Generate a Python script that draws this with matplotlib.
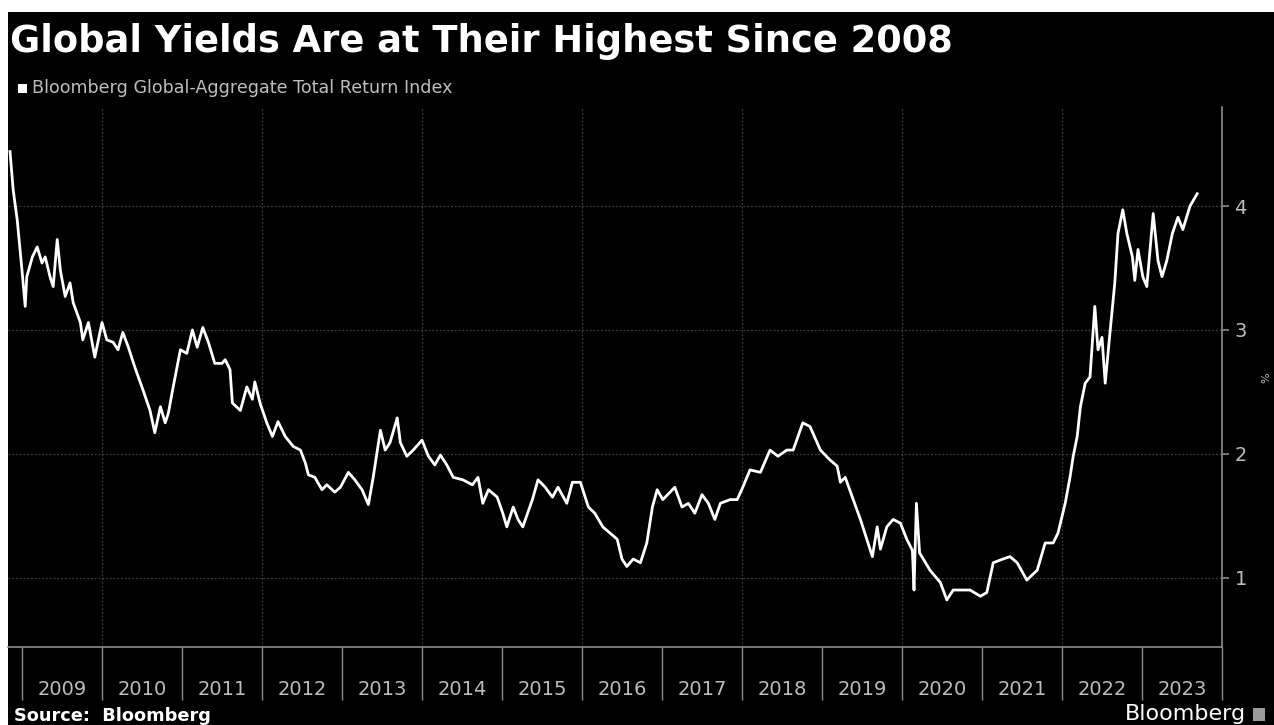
#!/usr/bin/env python3

import matplotlib
matplotlib.use('Agg')
import matplotlib.pyplot as plt
from matplotlib.patches import Rectangle
from matplotlib.ticker import FixedLocator, NullFormatter

# Index yield (%), sampled off the daily series; dates as decimal years
dates = [
    2008.85, 2008.89, 2008.94, 2009.00, 2009.04, 2009.06, 2009.13, 2009.19,
    2009.25, 2009.29, 2009.35, 2009.39, 2009.44, 2009.48, 2009.54, 2009.60,
    2009.64, 2009.73, 2009.76, 2009.83, 2009.91, 2010.00, 2010.06, 2010.14,
    2010.20, 2010.26, 2010.33, 2010.41, 2010.51, 2010.60, 2010.66, 2010.73,
    2010.79, 2010.83, 2010.89, 2010.98, 2011.06, 2011.13, 2011.19, 2011.26,
    2011.33, 2011.41, 2011.50, 2011.54, 2011.60, 2011.63, 2011.73, 2011.81,
    2011.88, 2011.91, 2011.98, 2012.06, 2012.13, 2012.20, 2012.29, 2012.39,
    2012.48, 2012.54, 2012.58, 2012.66, 2012.75, 2012.81, 2012.91, 2012.98,
    2013.08, 2013.16, 2013.25, 2013.33, 2013.39, 2013.48, 2013.54, 2013.60,
    2013.69, 2013.73, 2013.81, 2013.89, 2014.00, 2014.08, 2014.16, 2014.23,
    2014.31, 2014.39, 2014.51, 2014.63, 2014.70, 2014.76, 2014.83, 2014.94,
    2015.01, 2015.06, 2015.14, 2015.20, 2015.26, 2015.38, 2015.45, 2015.54,
    2015.63, 2015.70, 2015.81, 2015.88, 2015.98, 2016.08, 2016.16, 2016.26,
    2016.35, 2016.44, 2016.50, 2016.56, 2016.64, 2016.73, 2016.81, 2016.88,
    2016.94, 2017.01, 2017.10, 2017.16, 2017.25, 2017.33, 2017.41, 2017.50,
    2017.58, 2017.66, 2017.73, 2017.85, 2017.94, 2018.01, 2018.10, 2018.23,
    2018.35, 2018.45, 2018.56, 2018.64, 2018.76, 2018.85, 2018.98, 2019.10,
    2019.19, 2019.23, 2019.29, 2019.39, 2019.48, 2019.56, 2019.63, 2019.69,
    2019.73, 2019.81, 2019.89, 2019.98, 2020.06, 2020.13, 2020.15, 2020.18,
    2020.22, 2020.35, 2020.48, 2020.56, 2020.64, 2020.76, 2020.85, 2020.98,
    2021.06, 2021.14, 2021.26, 2021.35, 2021.44, 2021.56, 2021.69, 2021.79,
    2021.89, 2021.95, 2022.04, 2022.10, 2022.14, 2022.19, 2022.23, 2022.29,
    2022.35, 2022.41, 2022.45, 2022.50, 2022.54, 2022.60, 2022.66, 2022.70,
    2022.76, 2022.81, 2022.88, 2022.91, 2022.95, 2023.01, 2023.06, 2023.14,
    2023.20, 2023.25, 2023.31, 2023.38, 2023.45, 2023.51, 2023.60, 2023.69,
]
yields = [
    4.44, 4.13, 3.89, 3.48, 3.19, 3.43, 3.59, 3.67,
    3.54, 3.59, 3.43, 3.35, 3.73, 3.48, 3.27, 3.38,
    3.22, 3.06, 2.92, 3.06, 2.78, 3.06, 2.92, 2.90,
    2.84, 2.98, 2.86, 2.70, 2.52, 2.35, 2.17, 2.38,
    2.25, 2.33, 2.54, 2.84, 2.81, 3.00, 2.86, 3.02,
    2.90, 2.73, 2.73, 2.76, 2.68, 2.41, 2.35, 2.54,
    2.44, 2.58, 2.40, 2.25, 2.14, 2.26, 2.14, 2.06,
    2.03, 1.93, 1.83, 1.81, 1.71, 1.75, 1.69, 1.73,
    1.85, 1.79, 1.71, 1.59, 1.81, 2.19, 2.03, 2.09,
    2.29, 2.09, 1.98, 2.03, 2.11, 1.98, 1.91, 1.99,
    1.91, 1.81, 1.79, 1.75, 1.81, 1.60, 1.71, 1.65,
    1.52, 1.41, 1.57, 1.47, 1.41, 1.63, 1.79, 1.73,
    1.65, 1.73, 1.60, 1.77, 1.77, 1.57, 1.52, 1.41,
    1.36, 1.31, 1.15, 1.09, 1.15, 1.12, 1.28, 1.57,
    1.71, 1.63, 1.69, 1.73, 1.57, 1.60, 1.52, 1.67,
    1.60, 1.47, 1.60, 1.63, 1.63, 1.73, 1.87, 1.85,
    2.03, 1.98, 2.03, 2.03, 2.25, 2.22, 2.03, 1.95,
    1.90, 1.77, 1.81, 1.63, 1.47, 1.31, 1.17, 1.41,
    1.23, 1.41, 1.47, 1.44, 1.31, 1.22, 0.90, 1.60,
    1.20, 1.06, 0.96, 0.82, 0.90, 0.90, 0.90, 0.85,
    0.88, 1.12, 1.15, 1.17, 1.12, 0.98, 1.06, 1.28,
    1.28, 1.36, 1.60, 1.81, 1.98, 2.14, 2.38, 2.57,
    2.62, 3.19, 2.84, 2.94, 2.57, 2.98, 3.38, 3.78,
    3.97, 3.78, 3.59, 3.40, 3.65, 3.43, 3.35, 3.94,
    3.56, 3.43, 3.56, 3.78, 3.91, 3.81, 4.00, 4.10,
]

years = list(range(2009, 2024))
y_ticks = [1, 2, 3, 4]

TITLE = 'Global Yields Are at Their Highest Since 2008'
SERIES = 'Bloomberg Global-Aggregate Total Return Index'

W, H = 1274, 725
GREY = '#bdbdbd'
AXIS = '#8c8c8c'
GRID = '#3c3c3c'


def px(x, y):
    # pixel position (from top-left) -> figure fraction
    return x / W, 1 - y / H


def main():
    fig = plt.figure(figsize=(W / 100, H / 100), dpi=100, facecolor='white')

    # black panel with a thin white margin top and left
    fig.add_artist(Rectangle(px(8, 725), (W - 8) / W, (725 - 12) / H,
                             transform=fig.transFigure, facecolor='black',
                             edgecolor='none', zorder=0))

    left, right = px(8, 0)[0], px(1222, 0)[0]
    bottom, top = px(0, 647)[1], px(0, 107)[1]
    ax = fig.add_axes([left, bottom, right - left, top - bottom], facecolor='black')

    ax.plot(dates, yields, color='white', lw=2.0, solid_joinstyle='round', zorder=3)

    ax.set_xlim(2008.825, years[-1] + 1)
    ax.set_ylim(0.44, 4.8)

    # year boundaries as long ticks, labels centred in each year
    ax.xaxis.set_major_locator(FixedLocator(years + [years[-1] + 1]))
    ax.xaxis.set_major_formatter(NullFormatter())
    ax.xaxis.set_minor_locator(FixedLocator([y + 0.5 for y in years]))
    ax.set_xticklabels([str(y) for y in years], minor=True)
    ax.tick_params(axis='x', which='major', length=38, width=1.0, color=AXIS,
                   direction='out')
    ax.tick_params(axis='x', which='minor', length=0, pad=24, labelsize=14,
                   labelcolor=GREY)

    ax.yaxis.tick_right()
    ax.set_yticks(y_ticks)
    ax.set_yticklabels([str(v) for v in y_ticks])
    ax.tick_params(axis='y', length=5, width=1.2, color=AXIS, pad=4,
                   labelsize=14, labelcolor=GREY)

    for s in ('left', 'top'):
        ax.spines[s].set_visible(False)
    for s in ('right', 'bottom'):
        ax.spines[s].set_color(AXIS)
        ax.spines[s].set_linewidth(1.2)

    for v in y_ticks:
        ax.axhline(v, color=GRID, lw=0.9, ls=(0, (1.5, 1.5)), zorder=1)
    for y in range(2010, 2024, 2):
        ax.axvline(y, color=GRID, lw=0.9, ls=(0, (1.5, 1.5)), zorder=1)

    # header
    fig.text(*px(10, 42), TITLE, color='white', fontsize=26.5, fontweight='bold',
             va='center', ha='left')
    fig.add_artist(Rectangle(px(18, 93), 9 / W, 9 / H, transform=fig.transFigure,
                             facecolor='white', edgecolor='none'))
    fig.text(*px(32, 88), SERIES, color=GREY, fontsize=12.6, va='center', ha='left')

    # axis unit, mostly cut off at the edge
    fig.text(*px(1266, 378), '%', color=GREY, fontsize=8, rotation=90,
             va='center', ha='center')

    # footer
    fig.text(*px(14, 716), 'Source:  Bloomberg', color='white', fontsize=12.8,
             fontweight='bold', va='center', ha='left')
    fig.text(*px(1246, 714), 'Bloomberg', color='white', fontsize=16,
             va='center', ha='right')
    fig.add_artist(Rectangle(px(1253, 721), 12 / W, 13 / H, transform=fig.transFigure,
                             facecolor='#9a9a9a', edgecolor='none'))

    fig.savefig('out.png', dpi=100, facecolor=fig.get_facecolor())


if __name__ == '__main__':
    main()
